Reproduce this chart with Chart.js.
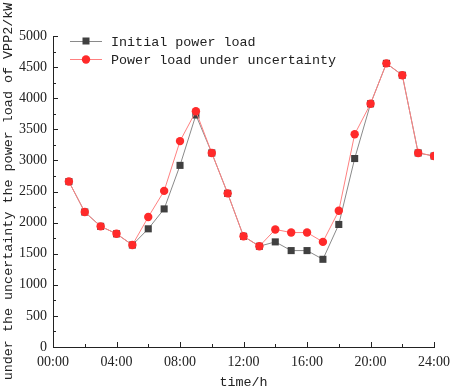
<!DOCTYPE html>
<html>
<head>
<meta charset="utf-8">
<script src="https://cdn.jsdelivr.net/npm/chart.js@4"></script>
<style>
  body { margin: 0; background: #fff; }
  #wrap { width: 457px; height: 390px; }
</style>
</head>
<body>
<div id="wrap"><canvas id="loadChart" width="457" height="390"></canvas></div>
<script>
// hours of the day (x values)
const hours = [1, 2, 3, 4, 5, 6, 7, 8, 9, 10, 11, 12, 13, 14, 15, 16, 17, 18, 19, 20, 21, 22, 23, 24];
const initialLoad = [2660, 2170, 1940, 1820, 1640, 1900, 2220, 2920, 3730, 3120, 2470, 1780,
                     1620, 1690, 1550, 1550, 1410, 1970, 3030, 3910, 4560, 4370, 3120, 3070];
const uncertainLoad = [2660, 2170, 1940, 1820, 1640, 2090, 2510, 3310, 3790, 3120, 2470, 1780,
                       1620, 1890, 1840, 1840, 1690, 2190, 3420, 3910, 4560, 4370, 3120, 3070];
const seriesNames = ['Initial power load', 'Power load under uncertainty'];
const xTicks = [0, 4, 8, 12, 16, 20, 24];
const yTicks = [0, 500, 1000, 1500, 2000, 2500, 3000, 3500, 4000, 4500, 5000];

const monoFont = '"Liberation Mono", "DejaVu Sans Mono", monospace';
const serifFont = '"Liberation Serif", "DejaVu Serif", serif';

// inward tick marks (major + minor), origin style
const innerTicks = {
    id: 'innerTicks',
    afterDraw(chart) {
        const ctx = chart.ctx;
        const xs = chart.scales.x, ys = chart.scales.y;
        const area = chart.chartArea;
        ctx.save();
        ctx.strokeStyle = '#222';
        ctx.lineWidth = 1;
        ctx.beginPath();
        for (let h = 0; h <= 24; h += 2) {
            const px = Math.round(xs.getPixelForValue(h)) + 0.5;
            const len = h % 4 === 0 ? 5 : 3;
            ctx.moveTo(px, area.bottom);
            ctx.lineTo(px, area.bottom - len);
        }
        for (let v = 0; v <= 5000; v += 250) {
            const py = Math.round(ys.getPixelForValue(v)) + 0.5;
            const len = v % 500 === 0 ? 5 : 3;
            ctx.moveTo(area.left, py);
            ctx.lineTo(area.left + len, py);
        }
        ctx.stroke();
        ctx.restore();
    }
};

// legend inside the plot, top-left
const insideLegend = {
    id: 'insideLegend',
    afterDraw(chart) {
        const ctx = chart.ctx;
        ctx.save();
        chart.data.datasets.forEach((ds, i) => {
            const y = 41 + i * 18;
            ctx.strokeStyle = ds.borderColor;
            ctx.lineWidth = 1;
            ctx.beginPath();
            ctx.moveTo(70, y + 0.5);
            ctx.lineTo(102, y + 0.5);
            ctx.stroke();
            ctx.fillStyle = ds.pointBackgroundColor;
            if (ds.pointStyle === 'rect') {
                ctx.fillRect(82.5, y - 3.5, 7, 7);
            } else {
                ctx.beginPath();
                ctx.arc(86, y + 0.5, 4.2, 0, Math.PI * 2);
                ctx.fill();
            }
            ctx.fillStyle = '#222';
            ctx.font = '13.4px ' + monoFont;
            ctx.textBaseline = 'middle';
            ctx.fillText(ds.label, 111, y + 1);
        });
        ctx.restore();
    }
};

const ctx = document.getElementById('loadChart').getContext('2d');

const config = {
    type: 'line',
    data: {
        datasets: [{
            label: seriesNames[0],
            data: hours.map((h, i) => ({ x: h, y: initialLoad[i] })),
            borderColor: '#8a8a8a',
            borderWidth: 1,
            pointStyle: 'rect',
            pointRadius: 5,
            pointBackgroundColor: '#404040',
            pointBorderColor: '#404040',
            pointBorderWidth: 0,
            tension: 0,
            order: 1
        },
        {
            label: seriesNames[1],
            data: hours.map((h, i) => ({ x: h, y: uncertainLoad[i] })),
            borderColor: '#ff8080',
            borderWidth: 1,
            pointStyle: 'circle',
            pointRadius: 4.2,
            pointBackgroundColor: '#ff2a2a',
            pointBorderColor: '#ff2a2a',
            pointBorderWidth: 0,
            tension: 0,
            order: 0
        }]
    },
    options: {
        responsive: false,
        animation: false,
        layout: { padding: { top: 36, right: 18, left: 0, bottom: 0 } },
        plugins: {
            legend: { display: false },
            tooltip: { enabled: false }
        },
        scales: {
            x: {
                type: 'linear',
                min: 0,
                max: 24,
                afterFit(scale) { scale.height = 43; },
                afterBuildTicks(scale) { scale.ticks = xTicks.map(v => ({ value: v })); },
                grid: { drawOnChartArea: false, drawTicks: false },
                border: { display: true, color: '#222', width: 1 },
                ticks: {
                    autoSkip: false,
                    maxRotation: 0,
                    padding: 7,
                    color: '#222',
                    font: { family: serifFont, size: 14 },
                    callback: v => String(v).padStart(2, '0') + ':00'
                },
                title: {
                    display: true,
                    text: 'time/h',
                    color: '#222',
                    font: { family: monoFont, size: 13.4, lineHeight: 16 / 13.4 },
                    padding: { top: 0, bottom: 0 }
                }
            },
            y: {
                min: 0,
                max: 5000,
                afterFit(scale) { scale.width = 53; },
                afterBuildTicks(scale) { scale.ticks = yTicks.map(v => ({ value: v })); },
                grid: { drawOnChartArea: false, drawTicks: false },
                border: { display: true, color: '#222', width: 1 },
                ticks: {
                    padding: 6,
                    color: '#222',
                    font: { family: serifFont, size: 14 },
                    callback: v => String(v)
                },
                title: {
                    display: true,
                    text: 'under the uncertainty the power load of VPP2/kW',
                    color: '#222',
                    font: { family: monoFont, size: 13.4, lineHeight: 16 / 13.4 },
                    padding: { top: 0, bottom: 0 }
                }
            }
        }
    },
    plugins: [innerTicks, insideLegend]
};

const loadChart = new Chart(ctx, config);
</script>
</body>
</html>
